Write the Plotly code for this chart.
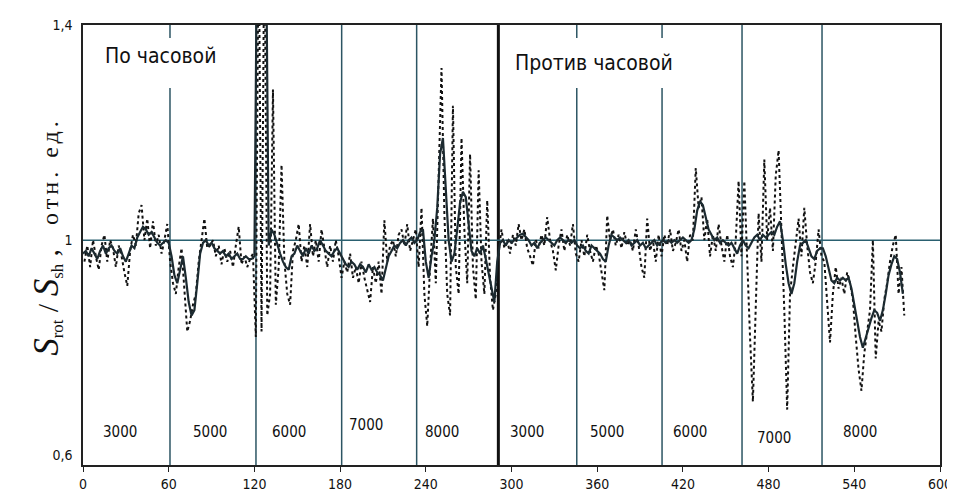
import plotly.graph_objects as go

# ---------------- data ----------------
# smoothed ratio (solid line), sampled every 2 units starting at 0
solid_vals = [
    # 0..60
    0.975, 0.98, 0.97, 0.985, 0.975, 0.965, 0.98, 0.99, 0.975, 0.985, 0.99, 0.98, 0.975, 0.985, 0.97, 0.96,
    0.975, 0.99, 0.985, 1.005, 1.015, 1.025, 1.02, 1.01, 1.015, 1.005, 0.995, 0.99, 0.995, 1.0, 0.995,
    # 62..120
    0.97, 0.935, 0.92, 0.945, 0.97, 0.93, 0.885, 0.86, 0.87, 0.92, 0.975, 0.995, 1.0, 0.99, 0.995,
    0.985, 0.98, 0.975, 0.98, 0.97, 0.975, 0.965, 0.97, 0.975, 0.965, 0.965, 0.97, 0.965, 0.965, 0.97,
    # 122..180
    1.6, 1.6, 1.6, 1.6, 0.99, 1.02, 1.01, 0.99, 0.975, 0.96, 0.95, 0.945, 0.97, 0.975, 0.99,
    0.98, 0.97, 0.985, 0.975, 0.99, 0.98, 0.985, 1.0, 0.99, 0.98, 0.975, 0.97, 0.98, 0.985, 0.975,
    # 182..234
    0.965, 0.955, 0.95, 0.96, 0.955, 0.945, 0.955, 0.95, 0.94, 0.955, 0.945, 0.95, 0.94, 0.935,
    0.925, 0.945, 0.97, 0.98, 0.99, 0.985, 0.995, 1.0, 0.99, 1.0, 1.005, 0.995, 1.0,
    # 236..290
    1.015, 1.02, 0.96, 0.93, 0.97, 1.0, 1.06, 1.16, 1.19, 1.1, 1.0, 0.96, 0.975, 1.02,
    1.07, 1.09, 1.08, 1.03, 0.98, 0.97, 0.985, 0.975, 0.99, 0.965, 0.94, 0.91, 0.885, 0.96,
    # 292..346
    0.995, 1.0, 0.99, 1.0, 0.995, 1.0, 1.005, 1.01, 1.012, 1.005, 1.0, 0.99, 0.995, 0.985,
    0.995, 1.0, 1.005, 1.0, 0.995, 0.99, 1.0, 1.005, 1.0, 0.995, 1.0, 0.995, 1.0, 0.99,
    # 348..404
    0.985, 0.99, 0.98, 0.975, 0.99, 0.985, 0.98, 0.975, 0.965, 0.96, 0.99, 1.01, 1.005, 1.0, 1.005,
    1.0, 0.995, 1.0, 0.99, 0.995, 1.0, 0.99, 0.995, 0.985, 0.99, 0.995, 1.0, 0.99, 0.995,
    # 406..462
    1.0, 0.995, 1.0, 0.995, 1.0, 0.995, 1.0, 1.005, 1.0, 0.995, 1.0, 1.02, 1.055, 1.072, 1.065,
    1.04, 1.02, 1.01, 1.0, 1.005, 0.995, 1.0, 0.995, 0.99, 0.995, 0.985, 0.975, 0.99, 1.0,
    # 464..516
    0.99, 0.985, 0.995, 1.005, 1.01, 1.0, 1.01, 1.005, 1.01, 1.015, 1.01, 1.025, 1.035, 1.0,
    0.955, 0.92, 0.9, 0.92, 0.96, 0.99, 0.995, 1.0, 0.985, 0.97, 0.965, 0.98, 0.985,
    # 518..574
    0.985, 0.97, 0.95, 0.925, 0.92, 0.93, 0.925, 0.93, 0.925, 0.93, 0.91, 0.88, 0.85, 0.82, 0.80,
    0.82, 0.84, 0.855, 0.87, 0.865, 0.85, 0.87, 0.9, 0.935, 0.955, 0.97, 0.965, 0.94, 0.9,
]
solid_x = list(range(0, 576, 2))

# raw ratio (dotted line), sampled every 2 units starting at 1
raw_vals = [
    # 1..59
    0.96, 0.99, 0.95, 1.0, 0.97, 0.945, 0.99, 1.01, 0.96, 1.0, 0.985, 0.95, 0.99, 0.97, 0.94,
    0.915, 0.98, 1.01, 0.99, 1.05, 1.065, 1.0, 1.04, 0.985, 1.035, 0.99, 1.01, 0.975, 1.0, 1.03,
    # 61..119
    0.96, 0.92, 0.9, 0.95, 0.985, 0.9, 0.83, 0.85, 0.88, 0.9, 0.96, 1.0, 1.04, 0.985, 0.99,
    1.0, 0.97, 0.99, 0.955, 0.985, 0.96, 0.98, 0.95, 0.99, 1.025, 0.955, 0.97, 0.95, 0.965, 0.975,
    # 121..179
    0.82, 1.6, 0.83, 1.6, 0.86, 0.9, 1.28, 0.88, 0.95, 1.14, 0.96, 0.9, 0.88, 0.98, 1.0,
    1.03, 0.96, 0.99, 0.95, 1.03, 0.97, 1.0, 0.96, 1.02, 0.98, 0.95, 0.99, 0.96, 1.0, 0.97,
    # 181..233
    0.93, 0.96, 0.94, 0.975, 0.93, 0.95, 0.92, 0.96, 0.93, 0.91, 0.885, 0.95, 0.92, 0.96,
    0.9, 1.037, 0.96, 0.99, 1.0, 0.97, 1.01, 1.02, 0.99, 1.03, 0.98, 1.0, 1.02,
    # 235..289
    0.95, 1.06, 0.9, 0.84, 0.95, 1.04, 0.92, 1.1, 1.32, 1.05, 0.9, 0.86, 1.25, 0.95,
    0.9, 1.19, 1.02, 0.92, 1.16, 0.95, 0.89, 1.13, 0.96, 0.9, 1.074, 0.93, 0.87, 0.9,
    # 291..345
    0.98, 1.02, 0.985, 1.0, 0.975, 1.01, 0.99, 1.03, 1.0, 1.02, 0.985, 0.97, 0.953, 1.0,
    0.985, 1.01, 0.99, 1.043, 1.0, 0.98, 0.944, 0.99, 1.02, 0.98, 1.01, 0.99, 1.03, 0.975,
    # 347..403
    0.96, 1.0, 0.97, 1.01, 0.98, 0.96, 0.99, 0.975, 0.94, 0.907, 1.046, 1.0, 1.02, 0.99, 1.01,
    0.985, 1.015, 0.99, 1.0, 0.98, 1.02, 0.99, 0.95, 0.93, 1.04, 0.98, 1.0, 0.96, 1.01,
    # 405..461
    0.97, 1.01, 0.99, 1.02, 0.98, 0.995, 1.02, 0.98, 1.0, 0.96, 1.01, 1.0, 1.134, 1.06, 1.08,
    1.0, 1.04, 0.97, 1.01, 0.98, 1.03, 0.99, 0.96, 1.01, 0.97, 0.95, 1.0, 1.11, 0.97,
    # 463..517
    1.11, 0.95, 0.82, 0.7, 0.9, 1.05, 0.96, 1.15, 1.0, 1.06, 0.98, 1.12, 1.167, 1.02,
    0.87, 0.685, 0.9, 0.95, 1.0, 1.04, 0.97, 1.06, 0.99, 0.94, 0.92, 0.96, 1.02, 0.97,
    # 519..575
    0.96, 0.88, 0.81, 0.9, 0.95, 0.91, 0.93, 0.9, 0.94, 0.92, 0.89, 0.82, 0.76, 0.72, 0.79,
    0.83, 0.87, 1.0, 0.78, 0.85, 0.83, 0.89, 0.92, 0.96, 0.99, 1.01, 0.9, 0.95, 0.86,
]
raw_x = list(range(1, 577, 2))

# regime boundaries (x positions of vertical separators)
boundaries = [60.9, 121.1, 181.1, 233.6, 345.7, 405.4, 461.4, 517.4]
direction_change = 290.8

# speed labels
speed_labels = ["3000", "5000", "6000", "7000", "8000", "3000", "5000", "6000", "7000", "8000"]
speed_label_x = [25.9, 88.9, 144.2, 198.1, 251.3, 310.8, 366.8, 425.0, 483.8, 544.0]
speed_label_y = [0.643, 0.643, 0.643, 0.656, 0.643, 0.643, 0.643, 0.643, 0.632, 0.643]

x_ticks = [0, 60, 120, 180, 240, 300, 360, 420, 480, 540, 600]
y_ticks = [0.6, 1.0, 1.4]
y_tick_text = ["0,6", "1", "1,4"]

# ---------------- figure ----------------
NARROW = "Liberation Sans Narrow, DejaVu Sans Condensed, Arial Narrow, Liberation Sans, Arial, sans-serif"
SERIF = "Liberation Serif, Times New Roman, serif"
SEP_COLOR = "#2c5563"

fig = go.Figure()
fig.add_trace(go.Scatter(x=raw_x, y=raw_vals, mode="lines",
                         line=dict(color="#111111", width=2, dash="dot"),
                         showlegend=False, hoverinfo="skip"))
fig.add_trace(go.Scatter(x=solid_x, y=solid_vals, mode="lines",
                         line=dict(color="#1c2a30", width=2.2),
                         showlegend=False, hoverinfo="skip"))

shapes = []
for b in boundaries:
    shapes.append(dict(type="line", xref="x", yref="paper", x0=b, x1=b, y0=0, y1=1,
                       line=dict(color=SEP_COLOR, width=1.5), layer="below"))
shapes.append(dict(type="line", xref="x", yref="paper", x0=direction_change, x1=direction_change,
                   y0=0, y1=1, line=dict(color="#111111", width=3), layer="below"))
shapes.append(dict(type="line", xref="paper", yref="y", x0=0, x1=1, y0=1, y1=1,
                   line=dict(color="#2a6070", width=1.5), layer="below"))
# white boxes behind the direction captions
shapes.append(dict(type="rect", xref="x", yref="y", x0=8.5, x1=101.5, y0=1.283, y1=1.376,
                   fillcolor="white", line=dict(width=0), layer="below"))
shapes.append(dict(type="rect", xref="x", yref="y", x0=297, x1=421, y0=1.283, y1=1.376,
                   fillcolor="white", line=dict(width=0), layer="below"))

annotations = []
for t, xx, yy in zip(speed_labels, speed_label_x, speed_label_y):
    annotations.append(dict(x=xx, y=yy, xref="x", yref="y", text=t, showarrow=False,
                            font=dict(family=NARROW, size=15, color="#111111")))
annotations.append(dict(x=54.6, y=1.342, xref="x", yref="y", text="По часовой", showarrow=False,
                        font=dict(family=NARROW, size=21, color="#111111")))
annotations.append(dict(x=357.8, y=1.329, xref="x", yref="y", text="Против часовой", showarrow=False,
                        font=dict(family=NARROW, size=21, color="#111111")))
annotations.append(dict(
    x=-0.068, y=0.518, xref="paper", yref="paper", textangle=-90, showarrow=False,
    text=("<span style='font-size:35px'><i>S</i></span><sub>rot</sub>"
          "<span style='font-size:30px'> / </span>"
          "<span style='font-size:35px'><i>S</i></span><sub>sh</sub>"
          "<span style='font-size:30px'> ,</span>    "
          "<span style='letter-spacing:4px'>отн. ед.</span>"),
    font=dict(family=SERIF, size=24, color="#111111")))

# the page body adds an 8px offset; shrink the canvas so the plot lands where the reference has it
fig.update_layout(
    width=947, height=483,
    margin=dict(l=75, r=15, t=17, b=26),
    paper_bgcolor="white", plot_bgcolor="white",
    shapes=shapes, annotations=annotations,
    xaxis=dict(range=[0, 600], tickvals=x_ticks, ticks="outside", ticklen=5, tickwidth=1,
               tickcolor="#222222", showgrid=False, zeroline=False, automargin=False,
               showline=True, linecolor="#222222", linewidth=1.5, mirror=True,
               tickfont=dict(family=NARROW, size=14, color="#111111")),
    yaxis=dict(range=[0.582, 1.4], tickvals=y_ticks, ticktext=y_tick_text, ticks="",
               showgrid=False, zeroline=False, automargin=False,
               showline=True, linecolor="#222222", linewidth=1.5, mirror=True,
               ticklabelstandoff=6,
               tickfont=dict(family=NARROW, size=14, color="#111111")),
)

fig.write_html("out.html")
